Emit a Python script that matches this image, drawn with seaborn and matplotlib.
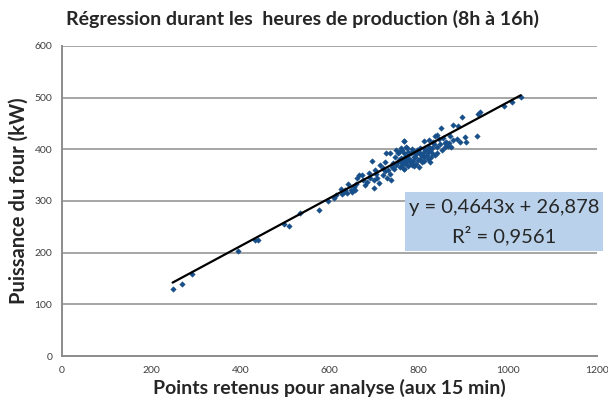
"""Régression puissance du four vs points retenus (heures de production)."""
import numpy as np
import pandas as pd
import matplotlib
matplotlib.use('Agg')
import matplotlib.pyplot as plt
from matplotlib.patches import Rectangle
import seaborn as sns

# Points (x: points retenus, y: puissance kW)
points_x = [248, 268, 292, 394, 433, 440, 498, 508, 534, 577, 597,
            610, 615, 626, 627, 632, 635, 640, 642, 648, 650, 655, 657, 660,
            662, 666, 672, 675, 680, 683, 689, 690, 695, 700, 700, 702, 705,
            706, 710, 713, 720, 721, 725, 725, 727, 730, 732, 735, 736, 738,
            739, 743, 745, 747, 748, 750, 754, 754, 755, 755, 758, 760, 760,
            762, 762, 763, 765, 766, 766, 767, 768, 768, 770, 770, 772, 772,
            773, 773, 775, 776, 777, 778, 780, 781, 782, 785, 785, 788, 788,
            790, 790, 792, 793, 795, 796, 798, 800, 800, 803, 803, 805, 808,
            810, 811, 812, 812, 814, 815, 818, 820, 820, 822, 824, 825, 825,
            828, 830, 830, 833, 835, 837, 837, 840, 840, 842, 846, 848, 849,
            852, 855, 858, 859, 862, 865, 868, 870, 872, 876, 878, 885, 889,
            892, 898, 904, 906, 931, 934, 938, 991, 1009, 1029]
points_y = [130, 140, 159, 204, 225, 224, 255, 252, 277, 283, 300,
            305, 312, 324, 313, 318, 322, 315, 333, 321, 318, 328, 321, 332,
            344, 350, 351, 340, 330, 337, 354, 345, 378, 326, 340, 360, 352,
            344, 335, 370, 350, 363, 376, 358, 393, 345, 360, 352, 393, 340,
            366, 373, 362, 386, 398, 370, 392, 376, 380, 395, 366, 384, 402,
            399, 373, 370, 378, 392, 362, 416, 362, 416, 386, 379, 372, 405,
            379, 402, 368, 395, 389, 382, 375, 379, 392, 370, 400, 378, 395,
            385, 368, 386, 372, 390, 399, 380, 395, 365, 402, 382, 388, 375,
            392, 416, 385, 378, 399, 400, 389, 395, 382, 418, 405, 398, 375,
            385, 402, 392, 415, 410, 425, 389, 428, 392, 405, 419, 410, 442,
            398, 421, 405, 413, 415, 407, 412, 425, 405, 447, 418, 420, 445,
            415, 463, 423, 414, 426, 468, 473, 484, 492, 501]

# Excel trendline coefficients
slope = 0.4643
intercept = 26.878
r2 = 0.9561

x_ticks = [0, 200, 400, 600, 800, 1000, 1200]
y_ticks = [0, 100, 200, 300, 400, 500, 600]

df = pd.DataFrame({'x': points_x, 'y': points_y})
line_x = np.array([min(points_x), max(points_x)])
line_df = pd.DataFrame({'x': line_x, 'y': slope * line_x + intercept})

sns.set_style('white')
plt.rcParams['font.family'] = ['Lato', 'DejaVu Sans']

fig = plt.figure(figsize=(6.08, 4.03), dpi=100)
ax = fig.add_axes([0.102, 0.1166, 0.880, 0.7694])

sns.scatterplot(data=df, x='x', y='y', marker='D', s=8, color='#174f8a',
                edgecolor='#174f8a', linewidth=0.3, ax=ax, zorder=3)
sns.lineplot(data=line_df, x='x', y='y', color='black', linewidth=1.6,
             ax=ax, zorder=4)

ax.set_xlim(0, 1200)
ax.set_ylim(0, 600)
ax.set_xticks(x_ticks)
ax.set_yticks(y_ticks)
ax.tick_params(labelsize=7.5, colors='#404040', length=4, direction='out',
               width=1, color='#8c8c8c', pad=3)
ax.yaxis.grid(True, color='#a6a6a6', linewidth=1.4)
ax.xaxis.grid(False)
for side in ['top', 'right']:
    ax.spines[side].set_visible(False)
for side in ['left', 'bottom']:
    ax.spines[side].set_color('#8c8c8c')
    ax.spines[side].set_linewidth(1.4)

ax.set_xlabel('Points retenus pour analyse (aux 15 min)', fontsize=14,
              fontweight='bold', labelpad=3)
ax.set_ylabel('Puissance du four (kW)', fontsize=14.5, fontweight='bold',
              labelpad=4)
fig.text(0.497, 0.952, 'Régression durant les  heures de production (8h à 16h)',
         ha='center', va='center', fontsize=14, fontweight='bold')

# Equation box
fig.patches.append(Rectangle((405 / 608, 1 - 251 / 403), 198 / 608, 59 / 403,
                             transform=fig.transFigure, facecolor='#b9d1ea',
                             edgecolor='none', zorder=5))
fig.text(504 / 608, 1 - 208 / 403, f'y = {slope:.4f}x + {intercept:.3f}'.replace('.', ','),
         ha='center', va='center', fontsize=14.5, zorder=6)
fig.text(504 / 608, 1 - 236 / 403, f'R² = {r2:.4f}'.replace('.', ','),
         ha='center', va='center', fontsize=14.5, zorder=6)

fig.savefig('out.png', dpi=100)
